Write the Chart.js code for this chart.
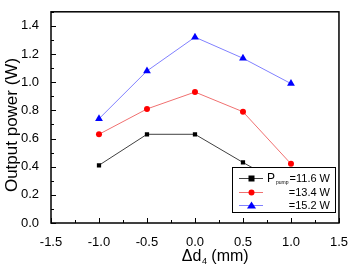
<!DOCTYPE html>
<html><head><meta charset="utf-8">
<script src="https://cdn.jsdelivr.net/npm/chart.js@4/dist/chart.umd.min.js"></script>
<style>html,body{margin:0;padding:0;background:#fff}#wrap{width:352px;height:269px}</style>
</head><body><div id="wrap"><canvas id="c" width="352" height="269"></canvas></div>
<script>
const xValues = [-1.0, -0.5, 0.0, 0.5, 1.0];
const p116 = [0.41, 0.63, 0.63, 0.43, 0.24];
const p134 = [0.63, 0.81, 0.93, 0.79, 0.42];
const p152 = [0.74, 1.08, 1.32, 1.17, 0.99];
const legendLabels = ["=11.6 W", "=13.4 W", "=15.2 W"];
const yTitle = "Output power (W)";
const xTitleParts = ["Δd", "4", " (mm)"];
const FONT = "'Liberation Sans', Arial, sans-serif";

function pts(ys){ return xValues.map((x,i)=>({x:x,y:ys[i]})); }

const frameTicks = {
  id:'frameTicks',
  afterDraw(chart){
    const ctx = chart.ctx, a = chart.chartArea;
    const xs = chart.scales.x, ys = chart.scales.y;
    ctx.save();
    ctx.strokeStyle = '#000';
    ctx.lineWidth = 1.5;
    ctx.strokeRect(a.left, a.top, a.right-a.left, a.bottom-a.top);
    ctx.lineWidth = 1;
    for (let v = -1.5; v <= 1.5001; v += 0.25) {
      const px = Math.round(xs.getPixelForValue(v)) + 0.5;
      const major = Math.abs(v*2 - Math.round(v*2)) < 1e-6;
      const len = major ? 5 : 3;
      ctx.beginPath(); ctx.moveTo(px, a.bottom); ctx.lineTo(px, a.bottom - len); ctx.stroke();
    }
    for (let v = 0; v <= 1.5001; v += 0.1) {
      const py = Math.round(ys.getPixelForValue(v)) + 0.5;
      const major = Math.round(v*10) % 2 === 0;
      const len = major ? 5 : 3;
      ctx.beginPath(); ctx.moveTo(a.left, py); ctx.lineTo(a.left + len, py); ctx.stroke();
    }
    // axis titles
    ctx.fillStyle = '#000';
    ctx.textBaseline = 'middle';
    ctx.save();
    ctx.translate(12, 125);
    ctx.rotate(-Math.PI/2);
    ctx.textAlign = 'center';
    ctx.font = '17px ' + FONT;
    ctx.fillText(yTitle, 0, 0);
    ctx.restore();
    ctx.textAlign = 'left';
    ctx.font = '16px ' + FONT;
    const w0 = ctx.measureText(xTitleParts[0]).width;
    const w2 = ctx.measureText(xTitleParts[2]).width;
    ctx.font = '9px ' + FONT;
    const w1 = ctx.measureText(xTitleParts[1]).width;
    let tx = 215 - (w0 + w1 + w2) / 2;
    ctx.font = '16px ' + FONT;
    ctx.fillText(xTitleParts[0], tx, 257);
    ctx.font = '9px ' + FONT;
    ctx.fillText(xTitleParts[1], tx + w0 + 0.5, 262);
    ctx.font = '16px ' + FONT;
    ctx.fillText(xTitleParts[2], tx + w0 + w1 + 0.5, 257);
    // legend
    const lx = 232, ly = 167, lw = 103, lh = 45;
    ctx.fillStyle = '#fff';
    ctx.fillRect(lx, ly, lw, lh);
    ctx.strokeStyle = '#000'; ctx.lineWidth = 1;
    ctx.strokeRect(lx+0.5, ly+0.5, lw, lh);
    const rows = [178, 192, 205];
    const ds = chart.data.datasets;
    rows.forEach((ry, i) => {
      const d = ds[i];
      ctx.strokeStyle = d.borderColor; ctx.lineWidth = 1;
      ctx.beginPath(); ctx.moveTo(239, ry+0.5); ctx.lineTo(263, ry+0.5); ctx.stroke();
      ctx.fillStyle = d.pointBackgroundColor;
      const cx = 251.5, cy = ry + 0.5;
      if (i === 0) { ctx.fillRect(cx-3, cy-3, 6, 6); }
      else if (i === 1) { ctx.beginPath(); ctx.arc(cx, cy, 3, 0, Math.PI*2); ctx.fill(); }
      else { ctx.beginPath(); ctx.moveTo(cx, cy-4); ctx.lineTo(cx+4.5, cy+3); ctx.lineTo(cx-4.5, cy+3); ctx.closePath(); ctx.fill(); }
      ctx.fillStyle = '#000';
      ctx.textBaseline = 'middle';
      ctx.textAlign = 'right';
      ctx.font = '11px ' + FONT;
      ctx.fillText(legendLabels[i], 330, ry + 1);
      if (i === 0) {
        ctx.textAlign = 'left';
        ctx.font = '12px ' + FONT;
        ctx.fillText('P', 267, ry + 1);
        ctx.font = '5px ' + FONT;
        ctx.fillText('pump', 276, ry + 5);
      }
    });
    ctx.restore();
  }
};

new Chart(document.getElementById('c'), {
  type: 'scatter',
  data: { datasets: [
    { data: pts(p116), showLine: true, borderColor: '#404040', borderWidth: 1, pointStyle: 'rect', pointRadius: 3, pointBackgroundColor: '#000', pointBorderColor: '#000', pointBorderWidth: 0 },
    { data: pts(p134), showLine: true, borderColor: '#f07070', borderWidth: 1, pointStyle: 'circle', pointRadius: 3, pointBackgroundColor: '#ff0000', pointBorderColor: '#ff0000', pointBorderWidth: 0 },
    { data: pts(p152), showLine: true, borderColor: '#8080ff', borderWidth: 1, pointStyle: 'triangle', pointRadius: 4.5, pointBackgroundColor: '#0000ff', pointBorderColor: '#0000ff', pointBorderWidth: 0 }
  ]},
  options: {
    responsive: false, animation: false, devicePixelRatio: 1,
    layout: { padding: { left: 0, right: 9, top: 7, bottom: 0 } },
    plugins: { legend: { display: false }, tooltip: { enabled: false } },
    scales: {
      x: {
        type: 'linear', min: -1.5, max: 1.5,
        grid: { display: false }, border: { display: false },
        ticks: { stepSize: 0.5, padding: 4, color: '#000', font: { family: FONT, size: 13 }, callback: v => v.toFixed(1) },
        title: { display: false },
        afterFit: s => { s.height = 46; }
      },
      y: {
        type: 'linear', min: 0, max: 1.5,
        grid: { display: false }, border: { display: false },
        ticks: { stepSize: 0.2, padding: 4, color: '#000', font: { family: FONT, size: 13 }, callback: v => v.toFixed(1) },
        afterBuildTicks: s => { s.ticks = [0,0.2,0.4,0.6,0.8,1.0,1.2,1.4].map(v=>({value:v})); },
        title: { display: false },
        afterFit: s => { s.width = 51; }
      }
    }
  },
  plugins: [frameTicks]
});
</script></body></html>
